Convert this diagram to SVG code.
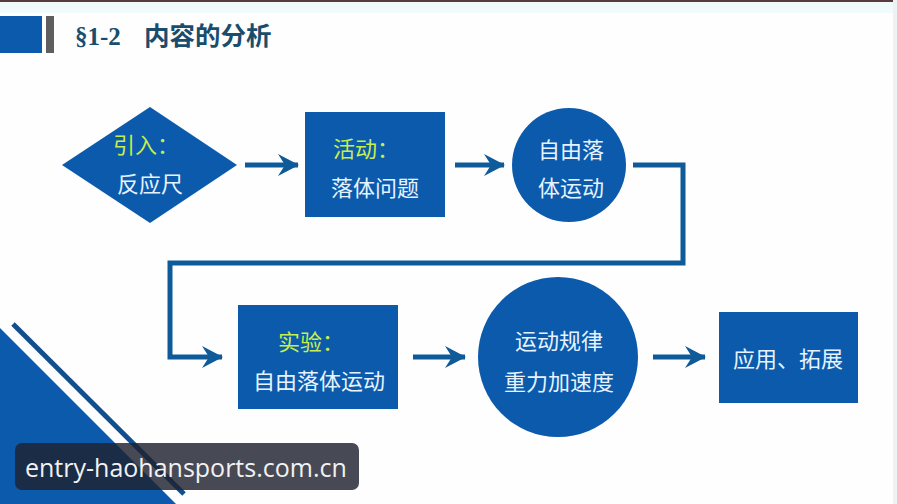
<svg xmlns="http://www.w3.org/2000/svg" width="897" height="504" viewBox="0 0 897 504">
<defs>
<style>
.node{fill:#0b5aac;}
.t{font-family:"Noto Sans CJK SC","Noto Sans",sans-serif;font-size:22px;fill:#e6f3ff;text-anchor:middle;}
.hl{fill:#c6ef4c;}
.conn{fill:none;stroke:#0f5a98;stroke-width:5;}
</style>
<marker id="ah" markerUnits="userSpaceOnUse" markerWidth="22" markerHeight="24" viewBox="0 0 22 24" refX="20" refY="12" orient="auto">
<path d="M0,1 L21,12 L0,23 L7,12 Z" fill="#0f5a98"/>
</marker>
</defs>
<rect width="897" height="504" fill="#fefefe"/>
<rect x="0" y="2" width="897" height="11" fill="#f2fbfc"/>
<rect x="0" y="0" width="897" height="2" fill="#5a3c3c"/>
<rect x="893" y="0" width="4" height="504" fill="#eef2f4"/>

<g id="header">
<rect x="0" y="16" width="42" height="37" fill="#0b5aac"/>
<rect x="46" y="16" width="8" height="37" fill="#5e5e5e"/>
<text x="75" y="45" font-family="'Liberation Serif',serif" font-size="25" font-weight="bold" fill="#1a4d6c">§1-2</text>
<text x="144" y="45" font-family="'Noto Sans CJK SC',sans-serif" font-size="25.5" font-weight="bold" fill="#1a4d6c">内容的分析</text>
</g>

<g id="decoration">
<polygon points="0,328 176,504 0,504" fill="#0b5aac"/>
<line x1="13" y1="324" x2="184" y2="494" stroke="#124f8e" stroke-width="5"/>
</g>

<g id="connectors">
<line class="conn" x1="245" y1="165" x2="298" y2="165" marker-end="url(#ah)"/>
<line class="conn" x1="455" y1="165" x2="504" y2="165" marker-end="url(#ah)"/>
<polyline class="conn" points="633,165 683,165 683,263 170,263 170,357 222,357" marker-end="url(#ah)"/>
<line class="conn" x1="413" y1="357" x2="465" y2="357" marker-end="url(#ah)"/>
<line class="conn" x1="653" y1="357" x2="705" y2="357" marker-end="url(#ah)"/>
</g>

<g id="n1">
<polygon class="node" points="62,165 150,107 237,165 150,223"/>
<text class="t hl" x="146" y="153">引入：</text>
<text class="t" x="150" y="192">反应尺</text>
</g>

<g id="n2">
<rect class="node" x="305" y="112" width="140" height="105"/>
<text class="t hl" x="366" y="157">活动：</text>
<text class="t" x="375" y="196">落体问题</text>
</g>

<g id="n3">
<circle class="node" cx="569" cy="165" r="57"/>
<text class="t" x="571" y="158">自由落</text>
<text class="t" x="571" y="196">体运动</text>
</g>

<g id="n4">
<rect class="node" x="238" y="305" width="160" height="104"/>
<text class="t hl" x="311" y="350">实验：</text>
<text class="t" x="319" y="389">自由落体运动</text>
</g>

<g id="n5">
<circle class="node" cx="558" cy="357" r="80"/>
<text class="t" x="559" y="349">运动规律</text>
<text class="t" x="559" y="390">重力加速度</text>
</g>

<g id="n6">
<rect class="node" x="719" y="312" width="139" height="91"/>
<text class="t" x="788" y="367">应用、拓展</text>
</g>

<g id="watermark">
<rect x="15" y="443" width="344" height="47" rx="7" fill="#1e2230" fill-opacity="0.82"/>
<text x="25" y="477" font-family="'Open Sans','Noto Sans',sans-serif" font-size="25" fill="#f2f2f2">entry-haohansports.com.cn</text>
</g>
</svg>
